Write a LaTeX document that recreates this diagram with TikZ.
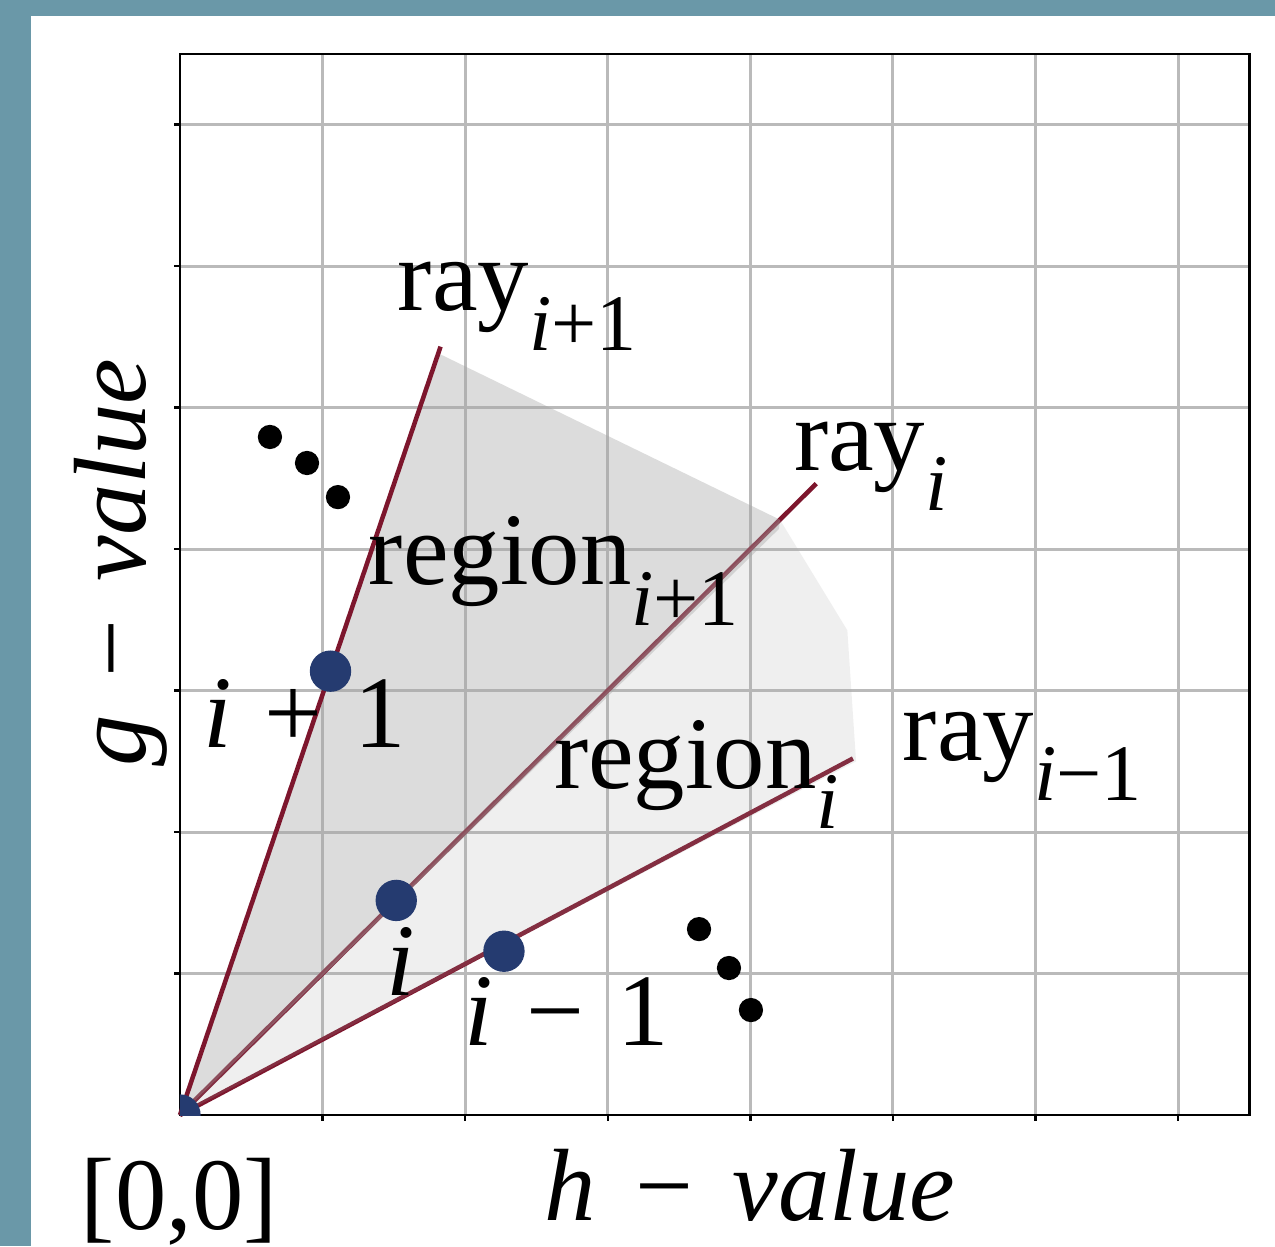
\documentclass[tikz,border=0pt]{standalone}
\usepackage{fontspec}
\setmainfont{Liberation Serif}
\usetikzlibrary{positioning}
\definecolor{framebg}{RGB}{106,152,168}
\definecolor{raycol}{RGB}{125,22,45}
\definecolor{dotblue}{RGB}{37,59,112}
\definecolor{shadecol}{RGB}{165,165,165}
\newcommand{\lowsub}[1]{\raisebox{-8pt}{\fontsize{16}{19}\selectfont #1}}
\newcommand{\opsp}[2]{\hspace{#1}{\upshape #2}\hspace{#1}}
\tikzset{
  gridline/.style={draw=black!27, line width=0.6pt},
  axisframe/.style={draw=black, line width=0.5pt},
  rayline/.style={draw=raycol, line width=0.9pt},
  regiondark/.style={fill=shadecol, fill opacity=0.39},
  regionlight/.style={fill=shadecol, fill opacity=0.17},
  statedot/.style={circle, fill=dotblue, minimum size=2.9mm, inner sep=0pt},
  dotsmark/.style={circle, fill=black, minimum size=1.7mm, inner sep=0pt},
  lbl/.style={font=\fontsize{20.5}{24}\selectfont, inner sep=0pt, anchor=base west}
}

\begin{document}
\begin{tikzpicture}[x=1cm, y=0.9923cm]
  \useasboundingbox (-1.262,-0.926) rectangle (7.679,7.880);
  % ==== BACKGROUND ====
  \fill[framebg] (-1.262,-0.926) rectangle (7.679,7.880);
  \fill[white] (-1.045,-0.926) rectangle (7.679,7.767);

  % ==== GRID AND AXES ====
  \foreach \k in {1,...,7} {
    \draw[gridline] (\k,0) -- (\k,7.5);
    \draw[gridline] (0,\k) -- (7.5,\k);
    \draw[axisframe] (\k,0) -- (\k,-0.04);
    \draw[axisframe] (0,\k) -- (-0.04,\k);
  }
  \draw[axisframe] (0,0) rectangle (7.5,7.5);

  % ==== RAYS AND REGIONS ====
  \coordinate (o) at (0,0);
  \coordinate (rayA) at (71.4:5.73);  % ray i+1
  \coordinate (rayB) at (45:6.31);    % ray i
  \coordinate (rayC) at (28.1:5.35);  % ray i-1
  \draw[rayline] (o) -- (rayB);
  \draw[rayline] (o) -- (rayC);
  \fill[regionlight] (o) -- (45:5.95) -- (36.2:5.8) -- (27.8:5.36) -- cycle;
  \fill[regiondark] (o) -- (71.4:5.68) -- (45:5.95) -- (44.6:5.9) -- cycle;
  \draw[rayline] (o) -- (rayA);

  % ==== STATES ====
  \begin{scope}
    \clip (0,0) rectangle (7.5,7.5);
    \node[statedot] (p0) at (o) {};
  \end{scope}
  \node[statedot] (pA) at (71.4:3.31) {};
  \node[statedot] (pB) at (45:2.145) {};
  \node[statedot] (pC) at (27.0:2.55) {};
  \foreach \x/\y in {0.631/4.792, 0.891/4.608, 1.108/4.367,
                     3.640/1.314, 3.850/1.039, 4.004/0.742}
    \node[dotsmark] at (\x,\y) {};

  % ==== LABELS ====
  \node[lbl] (labA) at (1.522,5.689) {ray\lowsub{\itshape i\upshape+1}};
  \node[lbl] (labB) at (4.299,4.558) {ray\lowsub{\itshape i}};
  \node[lbl] (labC) at (5.063,2.509) {ray\lowsub{\itshape i\upshape−1}};
  \node[lbl] (regA) at (1.318,3.746) {region\lowsub{\itshape i\upshape+1}};
  \node[lbl] (regB) at (2.616,2.311) {region\lowsub{\itshape i}};
  \node[lbl] (numA) at (0.161,2.594) {\itshape i \opsp{1.3pt}{+} \upshape 1};
  \node[lbl] (numB) at (1.438,0.848) {\itshape i};
  \node[lbl] (numC) at (1.985,0.495) {\itshape i \opsp{1.6pt}{−} \upshape 1};
  \node[lbl] (orig) at (-0.701,-0.81) {[0,0]};
  \node[lbl] (hval) at (2.546,-0.742) {\itshape h \opsp{2.8pt}{−} value};
  \node[lbl, rotate=90] (gval) at (-0.245,2.459) {\itshape g \opsp{2.4pt}{−} value};
\end{tikzpicture}
\end{document}
